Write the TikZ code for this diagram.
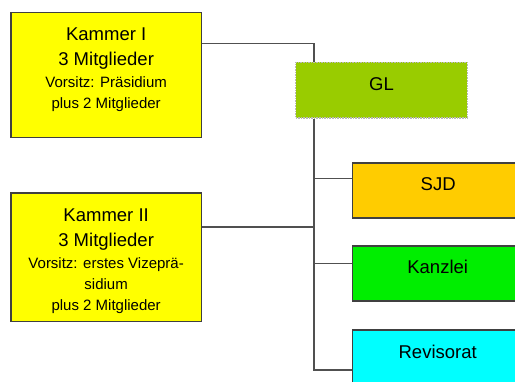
\documentclass[tikz,border=0pt]{standalone}
\usepackage{fontspec}
\setmainfont{Liberation Sans}
\definecolor{boxline}{HTML}{404040}
\definecolor{conn}{HTML}{505050}
\definecolor{kammer}{HTML}{FFFF00}
\definecolor{glfill}{HTML}{99CC00}
\definecolor{sjdfill}{HTML}{FFCC00}
\definecolor{kanzfill}{HTML}{00EE00}
\definecolor{revfill}{HTML}{00FFFF}
\newcommand{\bigtxt}{\fontsize{18.5}{25}\selectfont}
\newcommand{\smalltxt}{\fontsize{15}{21}\selectfont}
\begin{document}
\begin{tikzpicture}[x=1pt,y=-1pt,
  orgbox/.style={draw=boxline, line width=1.6pt, inner sep=0pt, anchor=north west},
  lbl/.style={inner sep=0pt, align=center, font=\bigtxt},
  wire/.style={draw=conn, line width=1.6pt}]
\useasboundingbox (0,0) rectangle (515,381);
\begin{scope}
\clip (0,0) rectangle (515,381);
% boxes
\node[orgbox, fill=kammer, minimum width=190.7pt, minimum height=125pt] (k1) at (10,11.7) {};
\node[orgbox, fill=kammer, minimum width=190.7pt, minimum height=128.4pt] (k2) at (10,192.3) {};
\node[orgbox, fill=glfill, draw=gray!55, densely dotted, line width=1.2pt, minimum width=171.7pt, minimum height=55.6pt] (gl) at (295,61.7) {};
\node[orgbox, fill=sjdfill, minimum width=172pt, minimum height=55pt] (sjd) at (351.7,162.3) {};
\node[orgbox, fill=kanzfill, minimum width=172pt, minimum height=55pt] (kanz) at (351.7,245) {};
\node[orgbox, fill=revfill, minimum width=172pt, minimum height=55pt] (rev) at (351.7,329) {};
% texts
\node[lbl] (k1t) at ([yshift=5.7pt]k1.center) {Kammer I\\3 Mitglieder\\[-3pt]\smalltxt Vorsitz: Präsidium\\[-4pt]\smalltxt plus 2 Mitglieder};
\node[lbl] (k2t) at ([yshift=-4pt]k2.center) {Kammer II\\3 Mitglieder\\[-3pt]\smalltxt Vorsitz: erstes Vizeprä-\\[-4pt]\smalltxt sidium\\[-4pt]\smalltxt plus 2 Mitglieder};
\node[lbl] (glt) at ([yshift=6pt]gl.center) {GL};
\node[lbl] (sjdt) at ([xshift=-0.3pt,yshift=6pt]sjd.center) {SJD};
\node[lbl] (kanzt) at ([xshift=-0.8pt,yshift=6pt]kanz.center) {Kanzlei};
\node[lbl] (revt) at ([xshift=-0.8pt,yshift=5.5pt]rev.center) {Revisorat};
% connectors
\coordinate (busTop) at ([xshift=19pt]gl.north west);
\coordinate (busBot) at ([xshift=19pt]gl.south west);
\coordinate (k1Out) at ([yshift=-31.6pt]k1.north east);
\coordinate (k2Out) at ([yshift=-34.4pt]k2.north east);
\coordinate (sjdIn) at ([yshift=-16pt]sjd.north west);
\coordinate (kanzIn) at ([yshift=-18.3pt]kanz.north west);
\coordinate (revIn) at ([yshift=-41pt]rev.north west);
\draw[wire] (k1Out) -| (busTop);
\draw[wire] (busBot) |- (revIn);
\draw[wire] (k2Out) -- (k2Out -| busBot);
\draw[wire] (sjdIn -| busBot) -- (sjdIn);
\draw[wire] (kanzIn -| busBot) -- (kanzIn);
\end{scope}
\end{tikzpicture}
\end{document}
